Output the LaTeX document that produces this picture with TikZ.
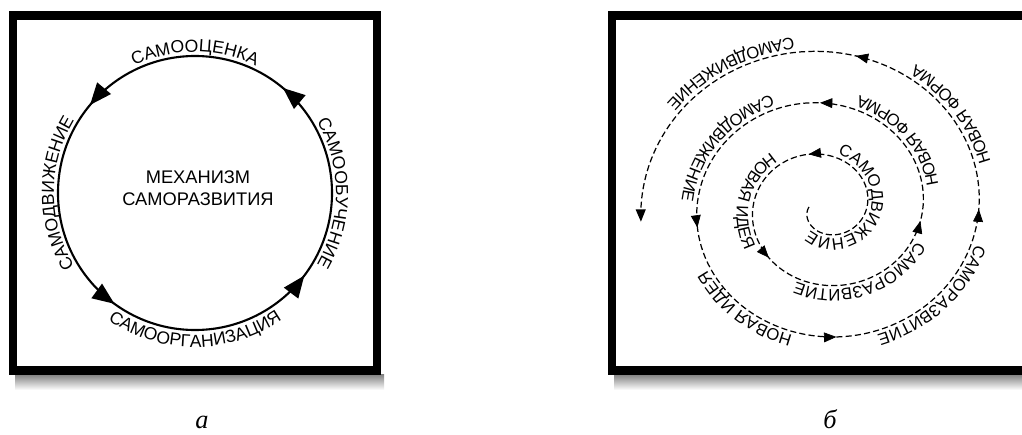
\documentclass[tikz,border=0pt]{standalone}
\usepackage{fontspec}
\newfontfamily\sansfont{Liberation Sans}
\newfontfamily\seriffont{Liberation Serif}
\usetikzlibrary{arrows.meta,decorations.text,decorations.markings}
\newcommand\ringfont{\sansfont\fontsize{10}{12}\selectfont}
\newcommand\midfont{\sansfont\fontsize{10.4}{12.2}\selectfont}
\newcommand\spirfont{\sansfont\fontsize{9.5}{11}\selectfont}
\tikzset{
    frame/.style={line width=4.6pt},
    shadow/.style={top color=black!50, bottom color=white, draw=none},
    ring/.style={line width=1.2pt},
    spiralline/.style={line width=0.7pt, dash pattern=on 3.5pt off 1.8pt},
    ringhead/.style={decoration={markings,
        mark=at position 0.139 with {\arrow{Triangle[length=12.5pt,width=10pt]}},
        mark=at position 0.389 with {\arrow{Triangle[length=12.5pt,width=10pt]}},
        mark=at position 0.650 with {\arrow{Triangle[length=12.5pt,width=10pt]}},
        mark=at position 0.897 with {\arrow{Triangle[length=12.5pt,width=10pt]}}},
        postaction=decorate},
    spirhead/.style={decoration={markings,
        mark=at position 0.5 with {\arrow{Triangle[length=7pt,width=5.6pt]}}},
        decorate},
    caption/.style={font=\seriffont\itshape\fontsize{15}{17}\selectfont,
        anchor=base, inner sep=0pt}
}
% text along an arc of the ring
\newcommand\ringtext[4]{%
  \path[decorate, decoration={text along path, text align=center,
        text={|\ringfont|#4}}]
    (ringc) ++(#1:#3) arc[start angle=#1, end angle=#2, radius=#3];}
% text along the spiral, shifted outwards by #3
\newcommand\spirtext[4]{%
  \path[decorate, decoration={text along path, text align=center,
        text={|\spirfont|#4}}]
    plot[domain=#1:#2, samples=90] ({spx(\x,#3)},{spy(\x,#3)});}

\begin{document}
\begin{tikzpicture}[x=0.02cm, y=0.02cm,
    declare function={spr(\t)=43+0.15556*\t;
        spx(\t,\d)=824+(spr(\t)+\d)*cos(\t);
        spy(\t,\d)=227+0.92*(spr(\t)+\d)*sin(\t);}]
\useasboundingbox (0,0) rectangle (1022,434);
\clip (0,0) rectangle (1022,434);

% frames
\shade[shadow] (15,60) rectangle (384,44);
\shade[shadow] (614,60) rectangle (1022,44);
\draw[frame] (13,418.5) rectangle (377,63.5);
\draw[frame] (612,418.5) rectangle (1040,63.5);

% a: the ring
\coordinate (ringc) at (195,241);
\draw[ring, ringhead] (ringc) circle[radius=137];
\node[font=\midfont, align=center] (mech) at (198,246) {МЕХАНИЗМ\\САМОРАЗВИТИЯ};
\ringtext{150}{30}{141}{САМООЦЕНКА}
\ringtext{65}{-65}{141}{САМООБУЧЕНИЕ}
\ringtext{245}{115}{141}{САМОДВИЖЕНИЕ}
\ringtext{205}{335}{154}{САМООРГАНИЗАЦИЯ}

% b: the spiral
\draw[spiralline, -{Triangle[length=7pt,width=5.6pt]}]
    plot[domain=-180:905, samples=400] ({spx(\x,0)},{spy(\x,0)});
\foreach \a in {105,225,351,452,550,635,719,799}{
    \pgfmathsetmacro\ab{\a-3}
    \pgfmathsetmacro\ae{\a+3}
    \path[spirhead] plot[domain=\ab:\ae, samples=5] ({spx(\x,0)},{spy(\x,0)});
}
\spirtext{90}{-150}{4}{САМОДВИЖЕНИЕ}
\spirtext{110}{230}{16}{НОВАЯ ИДЕЯ}
\spirtext{360}{226}{4}{САМОРАЗВИТИЕ}
\spirtext{340}{460}{16}{НОВАЯ ФОРМА}
\spirtext{445}{565}{16}{САМОДВИЖЕНИЕ}
\spirtext{640}{544}{4}{НОВАЯ ИДЕЯ}
\spirtext{730}{626}{4}{САМОРАЗВИТИЕ}
\spirtext{706}{806}{16}{НОВАЯ ФОРМА}
\spirtext{792}{892}{16}{САМОДВИЖЕНИЕ}

% captions
\node[caption] (capa) at (202,6) {а};
\node[caption] (capb) at (830,6) {б};
\end{tikzpicture}
\end{document}
